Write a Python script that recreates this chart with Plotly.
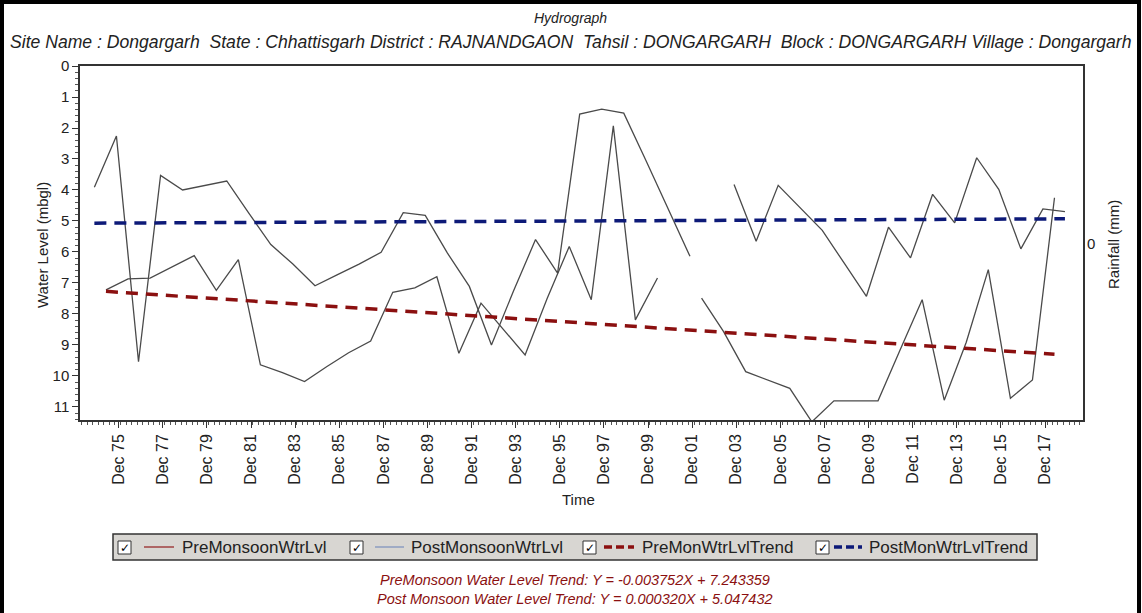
import plotly.graph_objects as go

# ---------------- data ----------------
pre_years = list(range(1975, 2019))
pre_level = [7.22, 6.87, 6.84, 6.47, 6.12, 7.24, 6.25, 9.64, 9.89, 10.18,
             9.70, 9.25, 8.87, 7.30, 7.16, 6.80, 9.27, 7.65, 8.50, 9.32,
             7.50, 5.82, 7.54, 1.93, 8.19, 6.84, None, 7.49, 8.57, 9.86,
             10.13, 10.40, 11.48, 10.80, 10.80, 10.80, 9.16, 7.54, 10.78, 8.91,
             6.57, 10.72, 10.13, 4.25]

post_years = list(range(1974, 2019))
post_level = [3.91, 2.26, 9.54, 3.53, 4.00, 3.86, 3.71, 4.75, 5.76, 6.39,
              7.09, 6.74, 6.39, 6.01, 4.73, 4.82, 6.03, 7.11, 9.00, 7.26,
              5.60, 6.68, 1.55, 1.39, 1.52, 3.04, 4.59, 6.14, None, 3.82,
              5.65, 3.85, 4.56, 5.30, 6.37, 7.43, 5.20, 6.19, 4.14, 5.06,
              2.96, 3.98, 5.90, 4.61, 4.70]

pre_month_day = "-05-05"
post_month_day = "-10-25"

trend_pre_dates = ["1975-05-05", "2018-05-05"]
trend_pre_level = [7.27, 9.30]
trend_post_dates = ["1974-10-25", "2018-10-25"]
trend_post_level = [5.07, 4.93]

x_range = ["1974-03-01", "2019-08-20"]
y_range = [11.42, 0]

legend_names = ["PreMonsoonWtrLvl", "PostMonsoonWtrLvl",
                "PreMonWtrLvlTrend", "PostMonWtrLvlTrend"]
title_text = "Hydrograph"
subtitle_text = ("Site Name : Dongargarh  State : Chhattisgarh District : RAJNANDGAON  "
                 "Tahsil : DONGARGARH  Block : DONGARGARH Village : Dongargarh")
formula_pre = "PreMonsoon Water Level Trend: Y = -0.003752X + 7.243359"
formula_post = "Post Monsoon Water Level Trend: Y = 0.000320X + 5.047432"

# ---------------- layout helpers ----------------
W, H = 1142, 613
ML, MR, MT, MB = 80, 59, 66, 193
PW, PH = W - ML - MR, H - MT - MB


def px(x):
    return (x - ML) / PW


def py(y):
    return (H - MB - y) / PH


FONT = "Liberation Sans, Arial, sans-serif"
LINE_GRAY = "#4a4a4a"
PRE_RED = "#8b1010"
POST_BLUE = "#0d1a78"

pre_dates = [f"{y}{pre_month_day}" for y in pre_years]
post_dates = [f"{y}{post_month_day}" for y in post_years]

fig = go.Figure()
fig.add_trace(go.Scatter(x=pre_dates, y=pre_level, mode="lines",
                         line=dict(color=LINE_GRAY, width=1.3),
                         name=legend_names[0], showlegend=False))
fig.add_trace(go.Scatter(x=post_dates, y=post_level, mode="lines",
                         line=dict(color=LINE_GRAY, width=1.3),
                         name=legend_names[1], showlegend=False))
fig.add_trace(go.Scatter(x=trend_pre_dates, y=trend_pre_level, mode="lines",
                         line=dict(color=PRE_RED, width=3.5, dash="12px,8px"),
                         name=legend_names[2], showlegend=False))
fig.add_trace(go.Scatter(x=trend_post_dates, y=trend_post_level, mode="lines",
                         line=dict(color=POST_BLUE, width=3.5, dash="12px,8px"),
                         name=legend_names[3], showlegend=False))

shapes = []
annotations = []

# outer frame
shapes.append(dict(type="rect", xref="paper", yref="paper",
                   x0=px(2), x1=px(1139), y0=py(650), y1=py(2),
                   line=dict(color="black", width=4), fillcolor="rgba(0,0,0,0)", layer="below"))

# titles
annotations.append(dict(text=f"<i>{title_text}</i>", x=px(570), y=py(18), xref="paper", yref="paper",
                        showarrow=False, xanchor="center", yanchor="middle",
                        font=dict(family=FONT, size=14, color="#222")))
annotations.append(dict(text=f"<i>{subtitle_text}</i>", x=px(571), y=py(42), xref="paper", yref="paper",
                        showarrow=False, xanchor="center", yanchor="middle",
                        font=dict(family=FONT, size=17.6, color="#222")))
# axis titles
annotations.append(dict(text="Water Level (mbgl)", x=px(42), y=py(245), xref="paper", yref="paper",
                        showarrow=False, textangle=-90, xanchor="center", yanchor="middle",
                        font=dict(family=FONT, size=15, color="#222")))
annotations.append(dict(text="Time", x=px(578), y=py(500), xref="paper", yref="paper",
                        showarrow=False, xanchor="center", yanchor="middle",
                        font=dict(family=FONT, size=15, color="#222")))
annotations.append(dict(text="0", x=px(1091), y=py(243), xref="paper", yref="paper",
                        showarrow=False, xanchor="center", yanchor="middle",
                        font=dict(family=FONT, size=15, color="#222")))
annotations.append(dict(text="Rainfall (mm)", x=px(1113), y=py(245), xref="paper", yref="paper",
                        showarrow=False, textangle=-90, xanchor="center", yanchor="middle",
                        font=dict(family=FONT, size=15, color="#222")))

# custom legend
shapes.append(dict(type="rect", xref="paper", yref="paper",
                   x0=px(113), x1=px(1037), y0=py(560), y1=py(534),
                   line=dict(color="#333", width=1.5), fillcolor="#d8d6d2"))
cb_x = [118, 350, 583, 816]
sample_x = [(144, 174), (375, 404), (604, 634), (834, 862)]
text_x = [180, 409, 640, 867]
sample_style = [dict(color="#a04040", width=1.5),
                dict(color="#8d9cc0", width=1.5),
                dict(color=PRE_RED, width=3.5, dash="8px,4px"),
                dict(color=POST_BLUE, width=3.5, dash="8px,4px")]
for i in range(4):
    shapes.append(dict(type="rect", xref="paper", yref="paper",
                       x0=px(cb_x[i]), x1=px(cb_x[i] + 13), y0=py(554), y1=py(541),
                       line=dict(color="#333", width=1), fillcolor="white"))
    annotations.append(dict(text="✓", x=px(cb_x[i] + 6.5), y=py(547.5), xref="paper", yref="paper",
                            showarrow=False, xanchor="center", yanchor="middle",
                            font=dict(family="DejaVu Sans", size=12, color="black")))
    shapes.append(dict(type="line", xref="paper", yref="paper",
                       x0=px(sample_x[i][0]), x1=px(sample_x[i][1]), y0=py(547), y1=py(547),
                       line=sample_style[i]))
    annotations.append(dict(text=legend_names[i], x=px(text_x[i]), y=py(547), xref="paper", yref="paper",
                            showarrow=False, xanchor="left", yanchor="middle",
                            font=dict(family=FONT, size=17, color="#222")))

# trend formulas
annotations.append(dict(text=f"<i>{formula_pre}</i>", x=px(575), y=py(580), xref="paper", yref="paper",
                        showarrow=False, xanchor="center", yanchor="middle",
                        font=dict(family=FONT, size=14.5, color=PRE_RED)))
annotations.append(dict(text=f"<i>{formula_post}</i>", x=px(575), y=py(599), xref="paper", yref="paper",
                        showarrow=False, xanchor="center", yanchor="middle",
                        font=dict(family=FONT, size=14.5, color=PRE_RED)))

fig.update_layout(
    width=W, height=H,
    margin=dict(l=ML, r=MR, t=MT, b=MB, pad=0),
    paper_bgcolor="white", plot_bgcolor="white",
    showlegend=False,
    shapes=shapes, annotations=annotations,
    font=dict(family=FONT, color="#222"),
    xaxis=dict(type="date", range=x_range, tick0="1975-12-01", dtick="M24",
               tickformat="%b %y", tickangle=-90, ticks="outside", ticklen=6,
               tickcolor="#333", tickfont=dict(size=16, family=FONT, color="#222"),
               showgrid=False, zeroline=False, showline=True, linecolor="#333",
               linewidth=1.5, mirror=True,
               minor=dict(dtick="M3", ticks="outside", ticklen=3, tickcolor="#555", showgrid=False)),
    yaxis=dict(range=y_range, dtick=1, tick0=0, ticks="outside", ticklen=6,
               tickcolor="#333", tickfont=dict(size=15, family=FONT, color="#222"),
               showgrid=False, zeroline=False, showline=True, linecolor="#333",
               linewidth=1.5, mirror=True,
               minor=dict(dtick=0.2, ticks="outside", ticklen=3, tickcolor="#555", showgrid=False)),
)

fig.write_html("out.html",
               config={"displayModeBar": False},
               post_script="document.body.style.margin='0';document.body.style.overflow='hidden';")
